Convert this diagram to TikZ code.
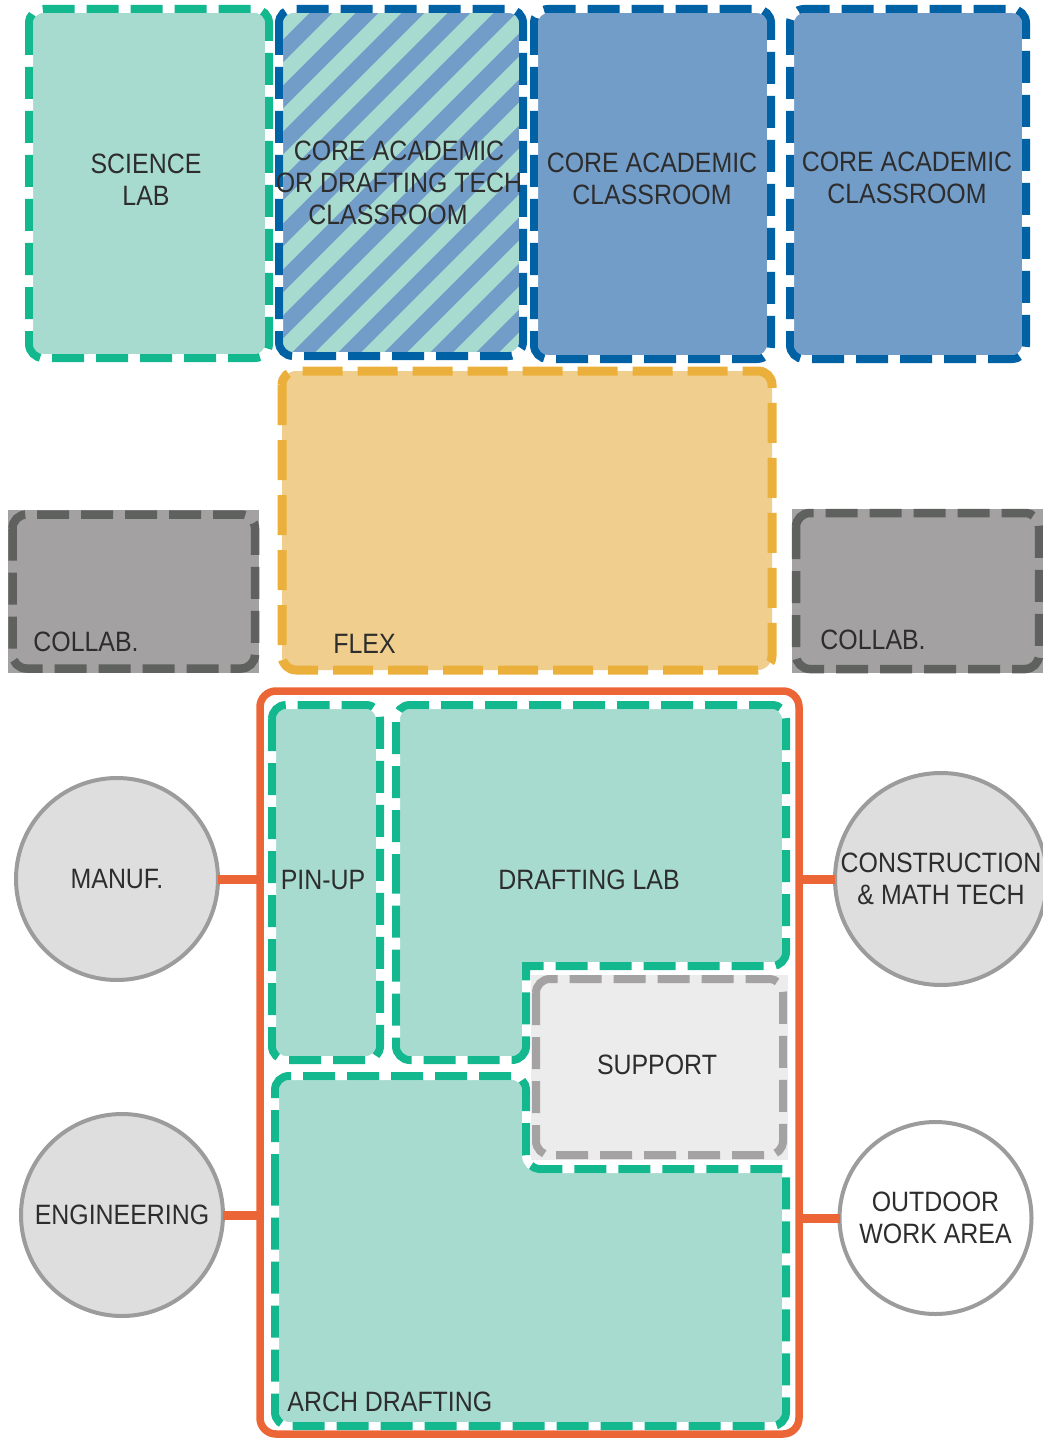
\documentclass[tikz,border=0pt]{standalone}
\usepackage{fontspec}
\setmainfont{Liberation Sans}[FakeStretch=0.89]
\definecolor{grnS}{RGB}{19,184,142}
\definecolor{tealF}{RGB}{168,219,207}
\definecolor{bluS}{RGB}{0,97,164}
\definecolor{bluF}{RGB}{115,157,201}
\definecolor{flxS}{RGB}{235,176,59}
\definecolor{flxF}{RGB}{240,206,142}
\definecolor{colF}{RGB}{163,161,162}
\definecolor{colS}{RGB}{94,97,93}
\definecolor{supF}{RGB}{235,236,235}
\definecolor{supS}{RGB}{164,162,163}
\definecolor{orn}{RGB}{236,101,54}
\definecolor{cirF}{RGB}{222,222,222}
\definecolor{cirS}{RGB}{156,156,156}
\definecolor{txt}{RGB}{45,45,45}
\tikzset{
  lbl/.style={font=\fontsize{14pt}{16pt}\selectfont, text=txt, align=center, inner sep=0pt},
  rc/.style={rounded corners=7pt},
  wline/.style={draw=white, line width=4pt},
  gdash/.style={draw=grnS, line width=4pt, dash pattern=on 16pt off 6pt},
  bdash/.style={draw=bluS, line width=4pt, dash pattern=on 16pt off 6pt},
  groom/.style={rc, fill=tealF, postaction={wline}, postaction={gdash}},
  broom/.style={rc, fill=bluF, postaction={wline}, postaction={bdash}},
  flexroom/.style={rc, fill=flxF, draw=flxS, line width=4.5pt, dash pattern=on 20pt off 7.5pt},
  collabline/.style={rc, draw=colS, line width=4.25pt, dash pattern=on 16pt off 6pt},
  supline/.style={rc, draw=supS, line width=4pt, dash pattern=on 16pt off 6pt},
  stripe/.style={draw=bluF, line width=8.1pt},
  zonebox/.style={draw=orn, line width=3.75pt, rounded corners=8pt, rectangle, outer sep=0pt, inner sep=0pt},
  circ/.style={circle, draw=cirS, line width=2pt, fill=cirF, outer sep=0pt, inner sep=0pt,
               font=\fontsize{14pt}{16pt}\selectfont, text=txt, align=center},
  conn/.style={draw=orn, line width=4.5pt}
}
\begin{document}
\begin{tikzpicture}[x=0.5pt,y=-0.5pt]
\useasboundingbox (0,0) rectangle (1043,1439);
% ---- top row ----
\path[groom] (29,9) rectangle (269,358);
\begin{scope}
  \clip[rc] (279,9) rectangle (523,356);
  \fill[tealF] (279,9) rectangle (523,356);
  \foreach \c in {150,196,...,1000} {\draw[stripe] (\c-420,420) -- (\c+20,-20);}
\end{scope}
\path[rc, postaction={wline}, postaction={bdash}] (279,9) rectangle (523,356);
\path[broom] (534,9) rectangle (771,359);
\path[broom] (790,9) rectangle (1026,359);
% ---- middle row ----
\path[flexroom] (282,371) rectangle (772,670);
\fill[colF] (8,510) rectangle (259,673);
\path[collabline] (12.5,514.5) rectangle (255,668.5);
\fill[colF] (792,509) rectangle (1043,673);
\path[collabline] (796,513) rectangle (1039,669);
% ---- lower block ----
\node[zonebox, minimum width=269.5pt, minimum height=371.5pt] (zone) at (529.5,1062.5) {};
\path[groom] (272,705) rectangle (380,1060);
\path[groom] (396,900) -- (396,705) -- (786,705) -- (786,966) [sharp corners] -- (526,966) [rounded corners=7pt] -- (526,1060) -- (396,1060) -- cycle;
\fill[supF] (531,975) rectangle (788,1160);
\path[supline] (536,979) rectangle (783,1155);
\path[groom] (275,1200) -- (275,1076) -- (526,1076) -- (526,1169) [sharp corners] -- (786,1169) [rounded corners=7pt] -- (786,1426) -- (275,1426) -- cycle;
% ---- labels ----
\node[lbl] (sci) at (146,180) {SCIENCE\\LAB};
\node[lbl] (hat) at (399,183) {CORE ACADEMIC\\OR DRAFTING TECH\\CLASSROOM\hspace*{11pt}};
\node[lbl] (ca1) at (652,179) {CORE ACADEMIC\\CLASSROOM};
\node[lbl] (ca2) at (907,178) {CORE ACADEMIC\\CLASSROOM};
\node[lbl, anchor=west] (colL) at (33,642) {COLLAB.};
\node[lbl, anchor=west] (flex) at (333,644) {FLEX};
\node[lbl, anchor=west] (colR) at (820,640) {COLLAB.};
\node[lbl] (pin) at (323,880) {PIN-UP};
\node[lbl] (dlab) at (589,880) {DRAFTING LAB};
\node[lbl] (sup) at (657,1065) {SUPPORT};
\node[lbl, anchor=west] (arch) at (287,1402) {ARCH DRAFTING};
% ---- circles ----
\node[circ, minimum size=101pt] (manuf) at (117,879) {MANUF.};
\node[circ, minimum size=101pt] (eng) at (122,1215) {ENGINEERING};
\node[circ, minimum size=106pt] (cons) at (941,879) {CONSTRUCTION\\\& MATH TECH};
\node[circ, minimum size=96pt, fill=white] (out) at (935.5,1218) {OUTDOOR\\WORK AREA};
% ---- connectors ----
\draw[conn] (manuf.east) -- (manuf.east -| zone.west);
\draw[conn] (eng.east) -- (eng.east -| zone.west);
\draw[conn] (cons.west) -- (cons.west -| zone.east);
\draw[conn] (out.west) -- (out.west -| zone.east);
\end{tikzpicture}
\end{document}
